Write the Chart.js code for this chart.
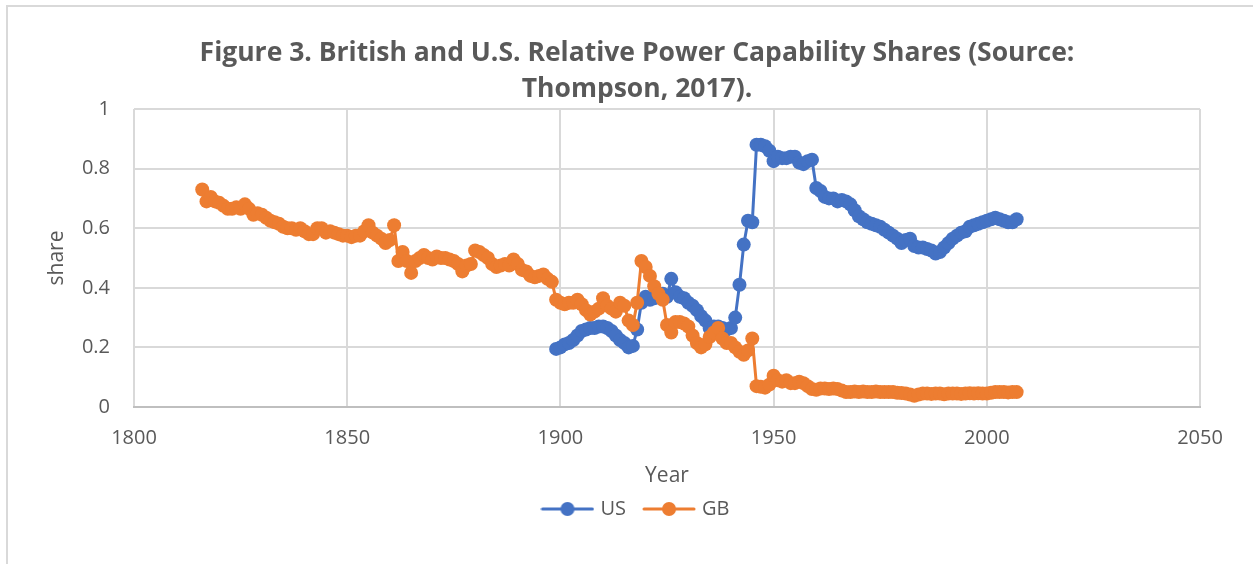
<!DOCTYPE html>
<html>
<head>
<meta charset="utf-8">
<script src="https://cdn.jsdelivr.net/npm/chart.js@4"></script>
<style>
  html, body { margin: 0; padding: 0; background: #fff; }
  #wrap { position: relative; width: 1253px; height: 564px; overflow: hidden; }
  #frame { position: absolute; left: 6px; top: 5px; width: 1300px; height: 600px;
           border-left: 2px solid #d9d9d9; border-top: 2px solid #d9d9d9; }
  #chart { position: absolute; left: 0; top: 0; }
</style>
</head>
<body>
<div id="wrap">
  <div id="frame"></div>
  <canvas id="chart" width="1253" height="564"></canvas>
</div>
<script>
// ===============================
// Dati
// ===============================

// Anni: GB dal 1816, US dal 1899 (fino al 2007)
const gbYears = Array.from({ length: 2007 - 1816 + 1 }, (_, i) => 1816 + i);
const usYears = Array.from({ length: 2007 - 1899 + 1 }, (_, i) => 1899 + i);

// Quote GB (1816-2007)
const gbShare = [
  0.73, 0.69, 0.705, 0.69, 0.685, 0.675, 0.665, 0.665, 0.67, 0.665,   // 1816-1825
  0.68, 0.665, 0.645, 0.65, 0.645, 0.635, 0.625, 0.62, 0.615, 0.605,  // 1826-1835
  0.6, 0.6, 0.595, 0.6, 0.59, 0.58, 0.58, 0.6, 0.6, 0.585,            // 1836-1845
  0.59, 0.585, 0.58, 0.575, 0.575, 0.57, 0.575, 0.575, 0.59, 0.61,    // 1846-1855
  0.585, 0.575, 0.565, 0.55, 0.56, 0.61, 0.49, 0.52, 0.49, 0.45,      // 1856-1865
  0.49, 0.5, 0.51, 0.5, 0.495, 0.505, 0.5, 0.5, 0.495, 0.49,          // 1866-1875
  0.48, 0.455, 0.475, 0.48, 0.525, 0.52, 0.51, 0.5, 0.48, 0.47,       // 1876-1885
  0.475, 0.48, 0.475, 0.495, 0.48, 0.46, 0.455, 0.44, 0.435, 0.44,    // 1886-1895
  0.445, 0.43, 0.42, 0.36, 0.35, 0.345, 0.35, 0.35, 0.36, 0.345,      // 1896-1905
  0.325, 0.31, 0.32, 0.33, 0.365, 0.34, 0.33, 0.32, 0.35, 0.34,       // 1906-1915
  0.29, 0.275, 0.35, 0.49, 0.47, 0.44, 0.405, 0.38, 0.36, 0.275,      // 1916-1925
  0.25, 0.285, 0.285, 0.28, 0.27, 0.24, 0.215, 0.2, 0.21, 0.235,      // 1926-1935
  0.25, 0.265, 0.23, 0.215, 0.215, 0.2, 0.185, 0.175, 0.19, 0.23,     // 1936-1945
  0.07, 0.068, 0.065, 0.075, 0.105, 0.09, 0.085, 0.09, 0.08, 0.08,    // 1946-1955
  0.085, 0.08, 0.07, 0.06, 0.058, 0.062, 0.062, 0.06, 0.062, 0.06,    // 1956-1965
  0.055, 0.05, 0.05, 0.052, 0.05, 0.052, 0.05, 0.05, 0.052, 0.05,     // 1966-1975
  0.05, 0.05, 0.05, 0.048, 0.047, 0.045, 0.042, 0.038, 0.042, 0.045,  // 1976-1985
  0.045, 0.044, 0.045, 0.045, 0.043, 0.045, 0.045, 0.045, 0.044, 0.045, // 1986-1995
  0.046, 0.045, 0.046, 0.045, 0.045, 0.048, 0.05, 0.05, 0.05, 0.049,  // 1996-2005
  0.05, 0.05                                                          // 2006-2007
];

// Quote US (1899-2007)
const usShare = [
  0.195,                                                              // 1899
  0.2, 0.21, 0.215, 0.225, 0.24, 0.255, 0.26, 0.265, 0.265, 0.27,     // 1900-1909
  0.27, 0.265, 0.255, 0.24, 0.225, 0.215, 0.2, 0.205, 0.26, 0.35,     // 1910-1919
  0.37, 0.36, 0.365, 0.375, 0.38, 0.37, 0.43, 0.385, 0.37, 0.365,     // 1920-1929
  0.35, 0.34, 0.325, 0.305, 0.29, 0.265, 0.27, 0.27, 0.265, 0.26,     // 1930-1939
  0.265, 0.3, 0.41, 0.545, 0.625, 0.62, 0.88, 0.88, 0.875, 0.86,      // 1940-1949
  0.825, 0.84, 0.835, 0.835, 0.84, 0.84, 0.82, 0.815, 0.825, 0.83,    // 1950-1959
  0.735, 0.725, 0.705, 0.7, 0.7, 0.69, 0.695, 0.69, 0.68, 0.66,       // 1960-1969
  0.64, 0.63, 0.62, 0.615, 0.61, 0.605, 0.595, 0.585, 0.575, 0.565,   // 1970-1979
  0.55, 0.56, 0.565, 0.54, 0.535, 0.535, 0.53, 0.525, 0.515, 0.52,    // 1980-1989
  0.535, 0.55, 0.565, 0.575, 0.585, 0.59, 0.605, 0.61, 0.615, 0.62,   // 1990-1999
  0.625, 0.63, 0.635, 0.63, 0.625, 0.62, 0.62, 0.63                   // 2000-2007
];

// Tick asse X
const xTicks = [1800, 1850, 1900, 1950, 2000, 2050];

// ===============================
// Stili
// ===============================
const US_COLOR = "#4472C4";
const GB_COLOR = "#ED7D31";
const TEXT = "#595959";
const GRID = "#d9d9d9";
const FONT = "'Open Sans', sans-serif";

// Marcatore legenda: linea con pallino (stile Excel)
function legendMarker(color) {
    const c = document.createElement("canvas");
    c.width = 54; c.height = 16;
    const g = c.getContext("2d");
    g.strokeStyle = color;
    g.lineWidth = 3;
    g.lineCap = "round";
    g.beginPath(); g.moveTo(2, 8); g.lineTo(52, 8); g.stroke();
    g.fillStyle = color;
    g.beginPath(); g.arc(27, 8, 7, 0, Math.PI * 2); g.fill();
    return c;
}
const markers = [legendMarker(US_COLOR), legendMarker(GB_COLOR)];

const toPoints = (years, vals) => years.map((y, i) => ({ x: y, y: vals[i] }));

new Chart(document.getElementById("chart"), {
    type: "line",
    data: {
        datasets: [
            {
                label: "US",
                data: toPoints(usYears, usShare),
                borderColor: US_COLOR,
                backgroundColor: US_COLOR,
                pointBackgroundColor: US_COLOR,
                pointBorderWidth: 0,
                pointRadius: 7,
                pointStyle: "circle",
                borderWidth: 3,
                order: 1
            },
            {
                label: "GB",
                data: toPoints(gbYears, gbShare),
                borderColor: GB_COLOR,
                backgroundColor: GB_COLOR,
                pointBackgroundColor: GB_COLOR,
                pointBorderWidth: 0,
                pointRadius: 7,
                pointStyle: "circle",
                borderWidth: 3,
                order: 0
            }
        ]
    },
    options: {
        responsive: false,
        animation: false,
        layout: { padding: { left: 74, right: 53, top: 0, bottom: 35 } },
        plugins: {
            title: {
                display: true,
                text: ["Figure 3. British and U.S. Relative Power Capability Shares (Source:", "Thompson, 2017)."],
                color: TEXT,
                font: { family: FONT, size: 26.5, weight: "bold", lineHeight: 36 / 26.5 },
                padding: { top: 35, bottom: 2 }
            },
            legend: {
                position: "bottom",
                labels: {
                    usePointStyle: true,
                    pointStyleWidth: 46,
                    padding: 20,
                    color: TEXT,
                    font: { family: FONT, size: 20 },
                    generateLabels: chart => chart.data.datasets.map((ds, i) => ({
                        text: ds.label,
                        pointStyle: markers[i],
                        fillStyle: ds.borderColor,
                        strokeStyle: ds.borderColor,
                        lineWidth: 0,
                        fontColor: TEXT,
                        datasetIndex: i
                    }))
                }
            },
            tooltip: { enabled: false }
        },
        scales: {
            x: {
                type: "linear",
                min: 1800,
                max: 2050,
                afterBuildTicks: scale => { scale.ticks = xTicks.map(v => ({ value: v })); },
                afterFit: scale => { scale.height = 72; },
                ticks: {
                    color: TEXT,
                    font: { family: FONT, size: 20 },
                    padding: 19,
                    maxRotation: 0,
                    callback: v => String(v)
                },
                grid: { color: GRID, lineWidth: 2, drawTicks: false },
                border: { color: "#bfbfbf", width: 2 },
                title: {
                    display: true,
                    text: "Year",
                    color: TEXT,
                    font: { family: FONT, size: 21 },
                    padding: { top: 0, bottom: -9.6 }
                }
            },
            y: {
                min: 0,
                max: 1,
                afterFit: scale => { scale.width = 60; },
                ticks: {
                    stepSize: 0.2,
                    color: TEXT,
                    font: { family: FONT, size: 20 },
                    padding: 24,
                    callback: v => String(Math.round(v * 10) / 10)
                },
                grid: { color: GRID, lineWidth: 2, drawTicks: false },
                border: { display: false },
                title: {
                    display: true,
                    text: "share",
                    color: TEXT,
                    font: { family: FONT, size: 21 },
                    padding: { top: -29.6, bottom: 0 }
                }
            }
        }
    }
});
</script>
</body>
</html>
